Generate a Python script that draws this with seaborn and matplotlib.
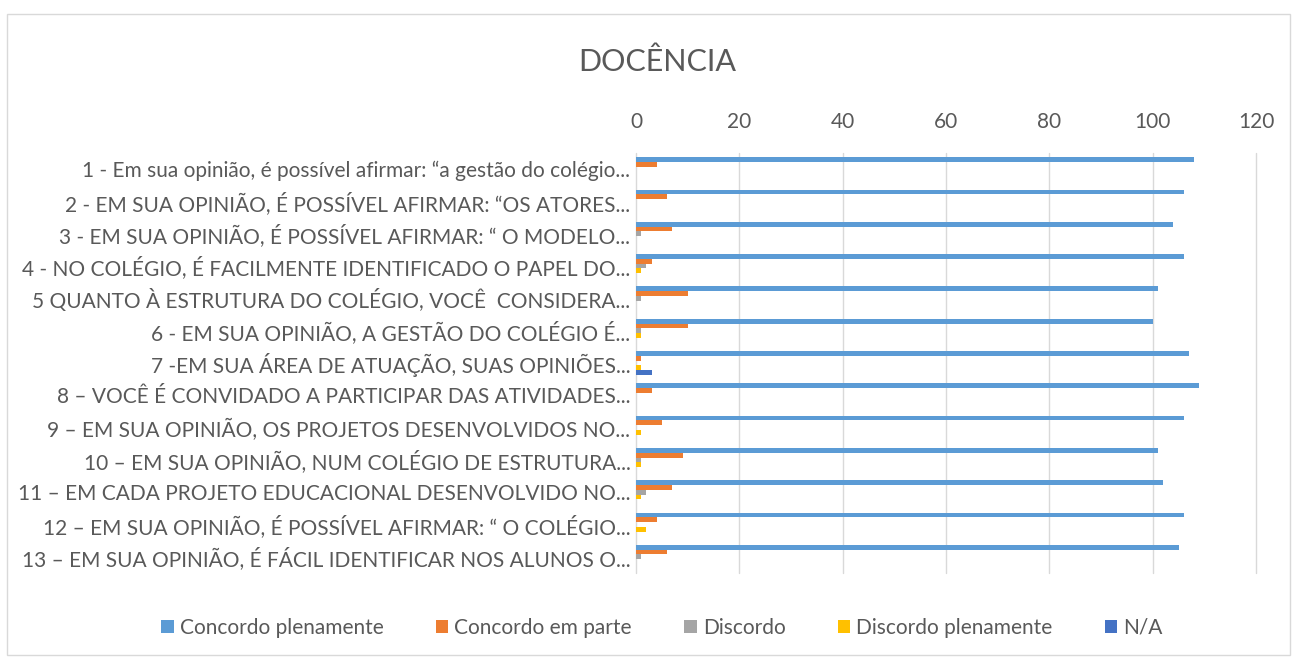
import pandas as pd
import seaborn as sns
import matplotlib.pyplot as plt
from matplotlib.patches import Rectangle

# Survey answers per question
questions = [
    "1 - Em sua opinião, é possível afirmar: “a gestão do colégio...",
    "2 - EM SUA OPINIÃO, É POSSÍVEL AFIRMAR: “OS ATORES...",
    "3 - EM SUA OPINIÃO, É POSSÍVEL AFIRMAR: “ O MODELO...",
    "4 - NO COLÉGIO, É FACILMENTE IDENTIFICADO O PAPEL DO...",
    "5 QUANTO À ESTRUTURA DO COLÉGIO, VOCÊ  CONSIDERA...",
    "6 - EM SUA OPINIÃO, A GESTÃO DO COLÉGIO É...",
    "7 -EM SUA ÁREA DE ATUAÇÃO, SUAS OPINIÕES...",
    "8 – VOCÊ É CONVIDADO A PARTICIPAR DAS ATIVIDADES...",
    "9 – EM SUA OPINIÃO, OS PROJETOS DESENVOLVIDOS NO...",
    "10 – EM SUA OPINIÃO, NUM COLÉGIO DE ESTRUTURA...",
    "11 – EM CADA PROJETO EDUCACIONAL DESENVOLVIDO NO...",
    "12 – EM SUA OPINIÃO, É POSSÍVEL AFIRMAR: “ O COLÉGIO...",
    "13 – EM SUA OPINIÃO, É FÁCIL IDENTIFICAR NOS ALUNOS O...",
]
answers = ["Concordo plenamente", "Concordo em parte", "Discordo",
           "Discordo plenamente", "N/A"]
concordo_plenamente = [108, 106, 104, 106, 101, 100, 107, 109, 106, 101, 102, 106, 105]
concordo_em_parte = [4, 6, 7, 3, 10, 10, 1, 3, 5, 9, 7, 4, 6]
discordo = [0, 0, 1, 2, 1, 1, 0, 0, 0, 1, 2, 0, 1]
discordo_plenamente = [0, 0, 0, 1, 0, 1, 1, 0, 1, 1, 1, 2, 0]
na = [0, 0, 0, 0, 0, 0, 3, 0, 0, 0, 0, 0, 0]
colors = ["#5B9BD5", "#ED7D31", "#A5A5A5", "#FFC000", "#4472C4"]

series = [concordo_plenamente, concordo_em_parte, discordo, discordo_plenamente, na]
rows = []
for ans, vals in zip(answers, series):
    for q, v in zip(questions, vals):
        rows.append({"Pergunta": q, "Resposta": ans, "Total": v})
df = pd.DataFrame(rows)

sns.set_style("white")
plt.rcParams["font.family"] = ["Lato", "DejaVu Sans"]
text_color = "#595959"

fig = plt.figure(figsize=(12.95, 6.59), dpi=100)
fig.patches.append(Rectangle((7 / 1295, 4 / 659), 1283 / 1295, 641 / 659,
                             transform=fig.transFigure, fill=False,
                             edgecolor="#D9D9D9", linewidth=1))
ax = fig.add_axes([636 / 1295, 1 - 573 / 659, 620 / 1295, 420 / 659])
sns.barplot(data=df, y="Pergunta", x="Total", hue="Resposta", order=questions,
            hue_order=answers, palette=colors, orient="h", width=0.74,
            errorbar=None, ax=ax, saturation=1, linewidth=0)

ax.set_xlim(0, 120)
ax.set_xticks(range(0, 121, 20))
ax.xaxis.tick_top()
ax.tick_params(axis="x", length=0, labelsize=15, colors=text_color, pad=15)
ax.tick_params(axis="y", length=0, labelsize=15, colors=text_color, pad=4)
ax.grid(axis="x", color="#D9D9D9", linewidth=1)
for gl in ax.get_xgridlines():
    gl.set_clip_on(False)
ax.set_axisbelow(True)
for s in ax.spines.values():
    s.set_visible(False)
ax.set_xlabel("")
ax.set_ylabel("")

fig.text(657 / 1295, 1 - 62 / 659, "DOCÊNCIA", ha="center", va="center",
         fontsize=22, color=text_color)

handles, labels = ax.get_legend_handles_labels()
ax.legend_.remove()
fig.legend(handles, labels, loc="center", bbox_to_anchor=(662 / 1295, 1 - 628 / 659),
           ncol=5, frameon=False, fontsize=15, labelcolor=text_color,
           handlelength=0.6, handleheight=0.6, handletextpad=0.3, columnspacing=2.5)

fig.savefig("out.png", dpi=100)
